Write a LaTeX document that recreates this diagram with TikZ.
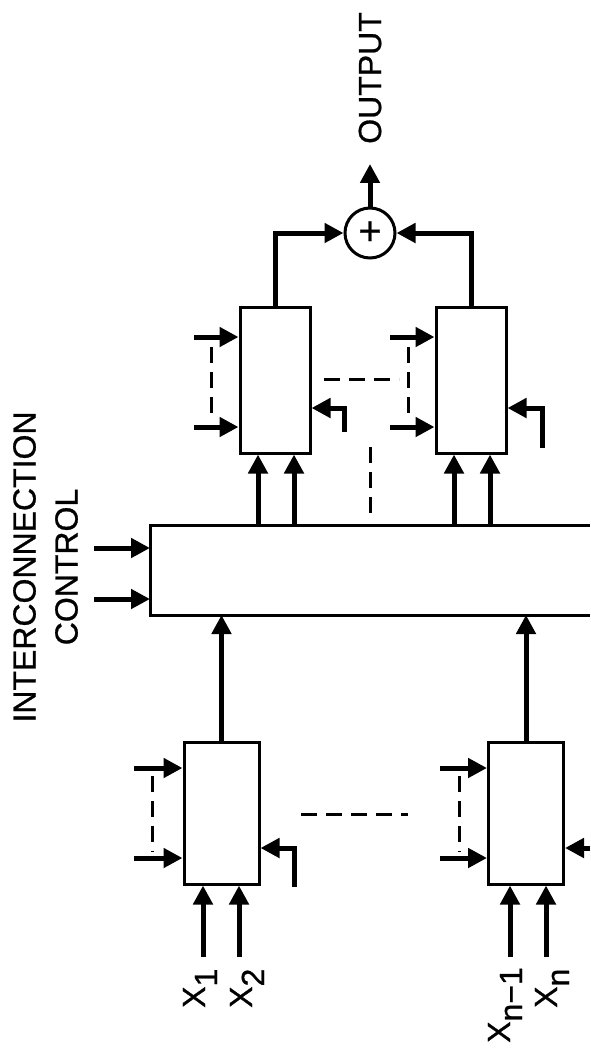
\documentclass[tikz,border=0pt]{standalone}
\usepackage{fontspec}
\setmainfont{Liberation Sans}[FakeBold=0.8]
\usetikzlibrary{arrows.meta,calc}

\newcommand{\lowsub}[1]{\raisebox{-12pt}{#1}}

\begin{document}
\begin{tikzpicture}[
    x=1pt,
    y=-1pt,
    >={Triangle[length=19pt,width=19pt]},
    font=\fontsize{32}{42}\selectfont,
    stage/.style={draw,line width=3pt,inner sep=0pt},
    signal/.style={line width=5pt,->},
    dashes/.style={line width=3pt,dash pattern=on 16pt off 9pt},
    vtext/.style={rotate=90,inner sep=0pt}
]
    \useasboundingbox (0,0) rectangle (590,1052);

    % Interconnection network (runs off the right edge)
    \coordinate (netNW) at (150,525);
    \coordinate (netSW) at (150,615);
    \draw[line width=3pt] (590,525) -- (netNW) -- (netSW) -- (590,615);
    \foreach \y in {548,599}{
        \coordinate (ctl) at (94,\y);
        \draw[signal] (ctl) -- (ctl -| netNW);
    }
    \node[vtext,align=center] (ctltext) at (45.5,567) {INTERCONNECTION\\CONTROL};

    % Input stage
    \node[stage,minimum width=75pt,minimum height=142pt] (proc1) at (221.5,813) {};
    \node[stage,minimum width=75pt,minimum height=142pt] (procn) at (526,813) {};
    \foreach \b in {proc1,procn}{
        \draw[signal] (\b.north) -- (\b.north |- netSW);
    }
    \foreach \b/\x in {proc1/134,procn/440}{
        \foreach \y in {768,858}{
            \coordinate (src) at (\x,\y);
            \draw[signal] (src) -- (src -| \b.west);
        }
    }
    \foreach \x in {152,459}{
        \draw[dashes] (\x,776) -- (\x,852);
    }
    \coordinate (ret1) at (294,887);
    \draw[signal] (ret1) |- ($(proc1.east)+(0,35)$);
    \coordinate (retn) at (590,848);
    \draw[signal] (retn) -- (retn -| procn.east);
    \draw[dashes] (301,814) -- (408,814);
    \foreach \x in {203,239,510,546}{
        \coordinate (x) at (\x,957);
        \draw[signal] (x) -- (x |- proc1.south);
    }
    \node[vtext,anchor=base west] (x1) at (205,1008) {X\lowsub{1}};
    \node[vtext,anchor=base west] (x2) at (252,1008) {X\lowsub{2}};
    \node[vtext,anchor=base west] (xm) at (510,1043) {X\lowsub{n−1}};
    \node[vtext,anchor=base west] (xn) at (557,1008) {X\lowsub{n}};

    % Output stage
    \node[stage,minimum width=70pt,minimum height=146pt] (comb1) at (275,380) {};
    \node[stage,minimum width=70pt,minimum height=146pt] (combn) at (471,380) {};
    \foreach \b in {comb1,combn}{
        \foreach \dx in {-17,19}{
            \coordinate (t) at ($(\b.south)+(\dx,0)$);
            \draw[signal] (t |- netNW) -- (t);
        }
    }
    \foreach \b/\x in {comb1/194,combn/390}{
        \foreach \y in {337,427}{
            \coordinate (src) at (\x,\y);
            \draw[signal] (src) -- (src -| \b.west);
        }
    }
    \foreach \x in {211,408}{
        \draw[dashes] (\x,347) -- (\x,420);
    }
    \draw[signal] (344,432) |- ($(comb1.east)+(0,28)$);
    \draw[signal] (542,448) |- ($(combn.east)+(0,28)$);
    \draw[dashes] (324,379) -- (399,379);
    \draw[dashes] (370,447) -- (370,513);

    % Summing junction
    \node[draw,circle,line width=3pt,minimum size=50pt,inner sep=0pt,
        font=\fontsize{40}{40}\selectfont] (sum) at (370,233) {+};
    \draw[signal] (comb1.north) |- (sum.west);
    \draw[signal] (combn.north) |- (sum.east);
    \node[vtext] (output) at (370,78) {OUTPUT};
    \draw[signal,shorten >=20pt] (sum) -- (output);
\end{tikzpicture}
\end{document}
